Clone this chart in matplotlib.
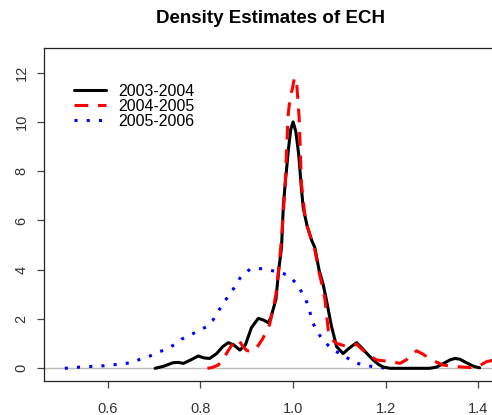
import matplotlib
matplotlib.use("Agg")
import matplotlib.pyplot as plt

plt.rcParams['font.family'] = ['Liberation Sans', 'DejaVu Sans']

# 2003-2004 (black, solid)
x_0304 = [0.702, 0.720, 0.741, 0.752, 0.763, 0.780, 0.795, 0.808, 0.820, 0.835,
          0.848, 0.860, 0.872, 0.885, 0.897, 0.910, 0.925, 0.937, 0.946, 0.952,
          0.957, 0.963, 0.969, 0.975, 0.979, 0.983, 0.990, 0.995, 1.000, 1.006,
          1.012, 1.018, 1.022, 1.030, 1.040, 1.047, 1.056, 1.065, 1.072, 1.083,
          1.094, 1.108, 1.120, 1.137, 1.150, 1.162, 1.173, 1.185, 1.195, 1.210,
          1.295, 1.310, 1.325, 1.340, 1.350, 1.360, 1.375, 1.390, 1.403]
y_0304 = [0.00, 0.08, 0.23, 0.24, 0.20, 0.35, 0.50, 0.42, 0.40, 0.60,
          0.88, 1.04, 0.95, 0.74, 0.95, 1.65, 2.03, 1.95, 1.85, 2.05,
          2.40, 2.80, 4.00, 4.90, 6.60, 7.50, 8.90, 9.70, 10.00, 9.60,
          8.70, 7.30, 6.50, 5.80, 5.20, 4.90, 4.00, 3.40, 2.77, 1.70,
          0.88, 0.60, 0.80, 1.04, 0.80, 0.55, 0.34, 0.15, 0.05, 0.00,
          0.00, 0.05, 0.20, 0.35, 0.40, 0.37, 0.22, 0.08, 0.02]

# 2004-2005 (red, dashed)
x_0405 = [0.815, 0.825, 0.838, 0.848, 0.856, 0.868, 0.881, 0.892, 0.900, 0.910,
          0.922, 0.935, 0.949, 0.957, 0.963, 0.970, 0.976, 0.983, 0.989, 0.994,
          0.998, 1.003, 1.008, 1.013, 1.018, 1.025, 1.030, 1.040, 1.047, 1.056,
          1.065, 1.069, 1.076, 1.085, 1.094, 1.110, 1.123, 1.137, 1.158, 1.180,
          1.188, 1.209, 1.231, 1.245, 1.257, 1.267, 1.280, 1.295, 1.310, 1.324,
          1.353, 1.382, 1.400, 1.418, 1.430, 1.450, 1.470, 1.490]
y_0405 = [0.00, 0.03, 0.13, 0.35, 0.60, 0.95, 1.18, 0.88, 0.72, 0.68,
          0.85, 1.22, 1.76, 2.43, 3.00, 4.20, 5.50, 7.50, 10.20, 11.10,
          11.30, 11.80, 11.50, 10.20, 7.50, 6.30, 5.80, 5.20, 4.80, 3.90,
          3.20, 2.77, 1.55, 1.15, 1.01, 0.92, 0.88, 0.98, 0.61, 0.34,
          0.32, 0.28, 0.20, 0.35, 0.58, 0.71, 0.58, 0.40, 0.25, 0.13,
          0.07, 0.03, 0.08, 0.27, 0.32, 0.25, 0.10, 0.02]

# 2005-2006 (blue, dotted)
x_0506 = [0.507, 0.532, 0.557, 0.583, 0.604, 0.627, 0.651, 0.670, 0.691, 0.706,
          0.725, 0.743, 0.759, 0.777, 0.795, 0.813, 0.827, 0.849, 0.867, 0.888,
          0.907, 0.925, 0.946, 0.967, 0.989, 1.007, 1.025, 1.032, 1.043, 1.054,
          1.068, 1.086, 1.108, 1.129, 1.151, 1.173, 1.194, 1.200]
y_0506 = [0.00, 0.04, 0.07, 0.09, 0.13, 0.17, 0.23, 0.37, 0.50, 0.63,
          0.77, 0.95, 1.18, 1.35, 1.51, 1.69, 1.96, 2.64, 3.10, 3.74,
          4.02, 4.06, 3.99, 3.92, 3.78, 3.45, 2.90, 2.57, 1.83, 1.42,
          1.08, 0.74, 0.54, 0.27, 0.13, 0.07, 0.02, 0.00]

labels = ["2003-2004", "2004-2005", "2005-2006"]
x_ticks = [0.6, 0.8, 1.0, 1.2, 1.4]
y_ticks = [0, 2, 4, 6, 8, 10, 12]

W, H = 492, 415
fig = plt.figure(figsize=(W / 100, H / 100), dpi=100)
ax = fig.add_axes([44 / W, 34 / H, 454 / W, 333 / H])

ax.axhline(0, color='#bbbbbb', lw=1.0, zorder=1)
ax.plot(x_0304, y_0304, color='black', lw=2.2, solid_capstyle='round', label=labels[0], zorder=3)
ax.plot(x_0405, y_0405, color='red', lw=2.2, dashes=(4.5, 3.2), label=labels[1], zorder=4)
ax.plot(x_0506, y_0506, color='blue', lw=2.2, dashes=(1.0, 3.0), label=labels[2], zorder=2)

ax.set_xlim(0.462, 1.4426)
ax.set_ylim(-0.515, 13.0)
ax.set_xticks(x_ticks)
ax.set_xticklabels(["0.6", "0.8", "1.0", "1.2", "1.4"])
ax.set_yticks(y_ticks)
ax.set_yticklabels([str(v) for v in y_ticks], rotation=90, va='center')

for s in ['left', 'top', 'bottom']:
    ax.spines[s].set_linewidth(0.9)
    ax.spines[s].set_color('#222222')
ax.spines['right'].set_visible(False)
ax.tick_params(direction='out', length=5, width=0.9, color='#444444',
               labelsize=10.5, labelcolor='#333333')
ax.tick_params(axis='x', pad=10)
ax.tick_params(axis='y', pad=6)

ax.set_title("Density Estimates of ECH", fontsize=13.5, fontweight='bold', pad=18)

ax.legend(loc='upper left', bbox_to_anchor=(0.052, 0.912), frameon=False,
          fontsize=11.5, handlelength=2.0, handletextpad=0.75, labelspacing=0.0,
          borderaxespad=0.0)

fig.savefig("out.png", dpi=100)
